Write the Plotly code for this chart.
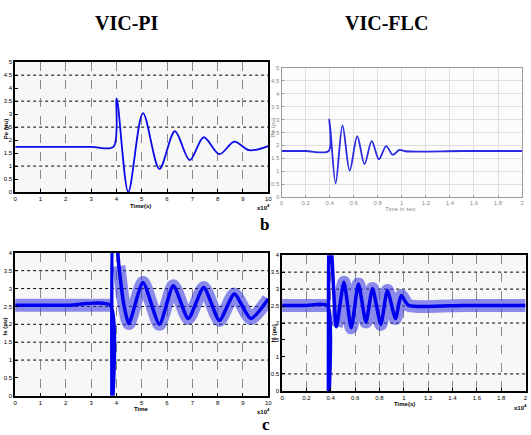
import plotly.graph_objects as go

W, H = 531, 435

# ---------------- data ----------------
# VIC-PI, electrical power Pe (pu); time in units of 1e4 samples
pi_pe_t = [0, 3.0, 3.88, 4.01, 4.47, 5.05, 5.70, 6.31, 6.90, 7.45, 8.07, 8.66, 9.24, 10]
pi_pe_v = [1.74, 1.74, 1.74, 3.61, 0.0, 3.04, 0.89, 2.34, 1.23, 2.11, 1.46, 1.94, 1.61, 1.77]

# VIC-FLC, electrical power Pe (pu); time in s
flc_pe_t = [0, 0.2, 0.392, 0.398, 0.45, 0.507, 0.567, 0.63, 0.69, 0.75, 0.81, 0.87, 0.926, 0.98, 1.03, 1.5, 2]
flc_pe_v = [1.78, 1.78, 1.78, 3.0, 0.53, 2.77, 1.02, 2.35, 1.27, 2.16, 1.46, 1.97, 1.63, 1.82, 1.77, 1.78, 1.78]

# VIC-PI, stator current (pu)
pi_is_t = [0, 2.0, 3.76, 3.82, 3.88, 4.0, 4.10, 4.30, 4.49, 5.05, 5.70, 6.25, 6.84, 7.45, 8.07, 8.66, 9.31, 10]
pi_is_v = [2.53, 2.53, 2.53, -0.6, 4.6, 4.4, 3.63, 2.53, 2.02, 3.17, 2.0, 3.08, 2.16, 3.03, 2.11, 2.85, 2.16, 2.71]

# VIC-FLC, stator current (pu)
flc_is_t = [0, 0.2, 0.372, 0.380, 0.388, 0.405, 0.446, 0.508, 0.568, 0.627, 0.689, 0.743, 0.811, 0.865, 0.932, 0.978, 1.04, 1.5, 2]
flc_is_v = [2.52, 2.52, 2.52, -0.6, 4.6, 4.2, 1.89, 3.20, 1.86, 3.15, 2.03, 3.02, 1.96, 2.96, 2.13, 2.81, 2.52, 2.52, 2.52]

# tick labels
ticks_0_10 = list(range(0, 11))
ticks_0_2 = [0, 0.2, 0.4, 0.6, 0.8, 1, 1.2, 1.4, 1.6, 1.8, 2]
ticks_pe = [0, 0.5, 1, 1.5, 2, 2.5, 3, 3.5, 4, 4.5, 5]
ticks_is = [0, 0.5, 1, 1.5, 2, 2.5, 3, 3.5, 4]

# horizontal dotted reference lines of the scope-style panels
grid_pi_pe = [4.5, 3.5, 2.5, 1.0]
grid_pi_is = [3.5, 3.0, 2.5, 2.0, 1.5, 1.0]
grid_flc_is = [3.5, 3.0, 2.5, 2.0, 0.5]


def px(x):
    return x / W


def py(y):
    return 1 - y / H


BLUE = "#0a0ae6"
tick_font = dict(family="Liberation Sans", size=6, color="black")

fig = go.Figure()

# top left: VIC-PI power
fig.add_trace(go.Scatter(x=pi_pe_t, y=pi_pe_v, mode="lines", xaxis="x", yaxis="y",
                         line=dict(color=BLUE, width=1.8, shape="spline", smoothing=0.9),
                         showlegend=False))
# top right: VIC-FLC power
fig.add_trace(go.Scatter(x=flc_pe_t, y=flc_pe_v, mode="lines", xaxis="x2", yaxis="y2",
                         line=dict(color="#2a2ae0", width=1.8, shape="spline", smoothing=0.9),
                         showlegend=False))
# bottom: currents, drawn as a noisy band (off-scale spike excluded) plus a dense core
for t, v, xa, ya in [(pi_is_t, pi_is_v, "x3", "y3"), (flc_is_t, flc_is_v, "x4", "y4")]:
    band_v = [val if 0 <= val <= 4 else None for val in v]
    fig.add_trace(go.Scatter(x=t, y=band_v, mode="lines", xaxis=xa, yaxis=ya,
                             line=dict(color="rgba(50,50,225,0.55)", width=13,
                                       shape="spline", smoothing=0.6),
                             connectgaps=False, showlegend=False, hoverinfo="skip"))
    fig.add_trace(go.Scatter(x=t, y=v, mode="lines", xaxis=xa, yaxis=ya,
                             line=dict(color="#0000ee", width=3.5, shape="spline", smoothing=0.6),
                             showlegend=False))

scope_x = dict(showline=True, linecolor="black", linewidth=1.6, mirror=True,
               ticks="inside", ticklen=3, tickcolor="black", tickfont=tick_font,
               showgrid=True, gridcolor="#8a8a8a", griddash="dash", gridwidth=1,
               zeroline=False, fixedrange=True)
scope_y = dict(showline=True, linecolor="black", linewidth=1.6, mirror=True,
               ticks="inside", ticklen=3, tickcolor="black", tickfont=tick_font,
               showgrid=False, zeroline=False, fixedrange=True)
flc_font = dict(family="Liberation Sans", size=6, color="#8a8a8a")

fig.update_layout(
    width=W, height=H, margin=dict(l=0, r=0, t=0, b=0),
    paper_bgcolor="white", plot_bgcolor="#f7f7f7",
    xaxis=dict(scope_x, domain=[px(13.3), px(269.3)], anchor="y", range=[0, 10],
               tickvals=ticks_0_10, ticktext=[str(v) for v in ticks_0_10]),
    yaxis=dict(scope_y, domain=[py(191.7), py(60)], anchor="x", range=[0, 5],
               tickvals=ticks_pe, ticktext=[f"{v:g}" for v in ticks_pe]),
    xaxis2=dict(domain=[px(282.7), px(526)], anchor="y2", range=[0, 2],
                tickvals=ticks_0_2, ticktext=[f"{v:g}" for v in ticks_0_2],
                showline=True, linecolor="#9a9a9a", linewidth=1, mirror=True,
                ticks="inside", ticklen=2, tickcolor="#9a9a9a", tickfont=flc_font,
                showgrid=True, gridcolor="#dedede", gridwidth=1, zeroline=False),
    yaxis2=dict(domain=[py(196.7), py(65.7)], anchor="x2", range=[0, 5],
                tickvals=ticks_pe, ticktext=[f"{v:g}" for v in ticks_pe],
                showline=True, linecolor="#9a9a9a", linewidth=1, mirror=True,
                ticks="inside", ticklen=2, tickcolor="#9a9a9a", tickfont=flc_font,
                showgrid=True, gridcolor="#dedede", gridwidth=1, zeroline=False),
    xaxis3=dict(scope_x, domain=[px(13.3), px(269.3)], anchor="y3", range=[0, 10],
                tickvals=ticks_0_10, ticktext=[str(v) for v in ticks_0_10]),
    yaxis3=dict(scope_y, domain=[py(398.3), py(253.3)], anchor="x3", range=[0, 4],
                tickvals=ticks_is, ticktext=[f"{v:g}" for v in ticks_is]),
    xaxis4=dict(scope_x, domain=[px(283.3), px(529.5)], anchor="y4", range=[0, 2],
                tickvals=ticks_0_2, ticktext=[f"{v:g}" for v in ticks_0_2]),
    yaxis4=dict(scope_y, domain=[py(393.3), py(255.7)], anchor="x4", range=[0, 4],
                tickvals=ticks_is, ticktext=[f"{v:g}" for v in ticks_is]),
)

# near-white background for the FLC power panel
fig.add_shape(type="rect", xref="x2 domain", yref="y2 domain", x0=0, x1=1, y0=0, y1=1,
              fillcolor="#fcfcfc", line=dict(width=0), layer="below")

for vals, xr, yr in [(grid_pi_pe, "x domain", "y"), (grid_pi_is, "x3 domain", "y3"),
                     (grid_flc_is, "x4 domain", "y4")]:
    for v in vals:
        fig.add_shape(type="line", xref=xr, yref=yr, x0=0, x1=1, y0=v, y1=v,
                      line=dict(color="black", width=1, dash="dot"), layer="below")

ann = []
serif_b = dict(family="Liberation Serif", color="black")
ann.append(dict(text="<b>VIC-PI</b>", x=px(126), y=py(20), font=dict(serif_b, size=20)))
ann.append(dict(text="<b>VIC-FLC</b>", x=px(388.5), y=py(20), font=dict(serif_b, size=20)))
ann.append(dict(text="<b>b</b>", x=px(266), y=py(225), font=dict(serif_b, size=17)))
ann.append(dict(text="<b>c</b>", x=px(267), y=py(427), font=dict(serif_b, size=17)))

small = dict(family="Liberation Sans", size=6, color="black")
graysmall = dict(family="Liberation Sans", size=6, color="#8a8a8a")
ann.append(dict(text="<b>Time(s)</b>", x=px(140), y=py(206), font=small))
ann.append(dict(text="Time in sec", x=px(403), y=py(209), font=graysmall))
ann.append(dict(text="<b>Time</b>", x=px(141), y=py(412), font=small))
ann.append(dict(text="<b>Time(s)</b>", x=px(407), y=py(407), font=small))
ann.append(dict(text="<b>Pe (pu)</b>", x=px(4), y=py(128), textangle=-90, font=small))
ann.append(dict(text="Pe (pu)", x=px(274), y=py(126), textangle=-90, font=graysmall))
ann.append(dict(text="<b>Is (pu)</b>", x=px(4), y=py(328), textangle=-90, font=small))
ann.append(dict(text="<b>Is (pu)</b>", x=px(275), y=py(335), textangle=-90, font=small))
ann.append(dict(text="<b>x10<sup>4</sup></b>", x=px(264), y=py(207), font=small))
ann.append(dict(text="<b>x10<sup>4</sup></b>", x=px(264), y=py(414), font=small))
ann.append(dict(text="<b>x10<sup>4</sup></b>", x=px(524), y=py(410), font=small))
for a in ann:
    fig.add_annotation(xref="paper", yref="paper", showarrow=False,
                       xanchor="center", yanchor="middle", **a)

fig.write_html("out.html")
